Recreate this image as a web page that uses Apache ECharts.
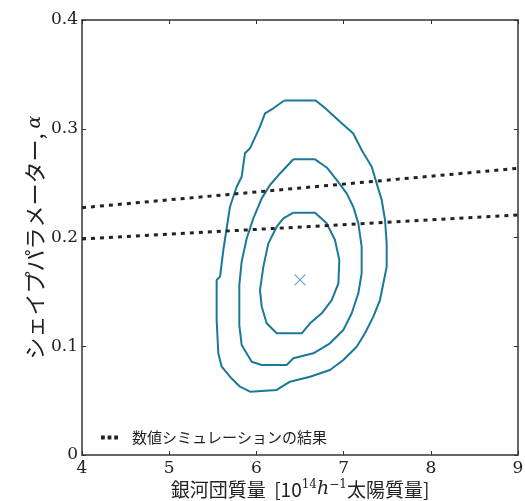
<!DOCTYPE html>
<html>
<head>
<meta charset="utf-8">
<script src="https://cdn.jsdelivr.net/npm/echarts@6/dist/echarts.min.js"></script>
<style>
html,body{margin:0;padding:0;background:#fff;}
#chart{width:525px;height:501px;}
</style>
</head>
<body>
<div id="chart"></div>
<script>
// Axis ticks
const xTicks = [4, 5, 6, 7, 8, 9];
const yTicks = [0, 0.1, 0.2, 0.3, 0.4];

// Outer contour (mass, alpha)
const outerContour = [
  [6.32,0.326],[6.68,0.326],[6.787,0.319],[6.959,0.3065],[7.111,0.2957],[7.207,0.2805],
  [7.322,0.2651],[7.379,0.2498],[7.437,0.2345],[7.475,0.2161],[7.494,0.1946],[7.494,0.1732],
  [7.456,0.1579],[7.417,0.1425],[7.341,0.1272],[7.245,0.1119],[7.150,0.0996],[6.997,0.0874],
  [6.844,0.0782],[6.615,0.0720],[6.385,0.0674],[6.233,0.0598],[5.927,0.0582],[5.812,0.0628],
  [5.697,0.0720],[5.602,0.0812],[5.563,0.0935],[5.544,0.1241],[5.544,0.1609],[5.583,0.1640],
  [5.621,0.1885],[5.697,0.2283],[5.774,0.2467],[5.831,0.2559],[5.869,0.2774],[5.927,0.2820],
  [6.041,0.3019],[6.099,0.3142],[6.194,0.3188],[6.32,0.326]
];
// Middle contour
const middleContour = [
  [6.424,0.2719],[6.672,0.2719],[6.806,0.2644],[6.920,0.2529],[7.035,0.2406],[7.111,0.2283],
  [7.169,0.2130],[7.207,0.1916],[7.207,0.1671],[7.169,0.1487],[7.093,0.1303],[6.997,0.1150],
  [6.844,0.1027],[6.653,0.0935],[6.424,0.0889],[6.347,0.0828],[6.061,0.0828],[5.946,0.0858],
  [5.831,0.1012],[5.804,0.1195],[5.804,0.1563],[5.831,0.1778],[5.889,0.1993],[5.965,0.2176],
  [6.061,0.2360],[6.156,0.2483],[6.271,0.2589],[6.424,0.2719]
];
// Inner contour
const innerContour = [
  [6.424,0.2228],[6.672,0.2228],[6.806,0.2130],[6.901,0.1977],[6.951,0.1793],[6.940,0.1579],
  [6.864,0.1425],[6.749,0.1303],[6.615,0.1211],[6.520,0.1119],[6.233,0.1119],[6.118,0.1211],
  [6.061,0.1364],[6.041,0.1517],[6.080,0.1732],[6.137,0.1946],[6.233,0.2099],[6.309,0.2176],
  [6.424,0.2228]
];
// Best-fit point
const bestFit = [[6.50, 0.161]];
// Simulation results (dotted lines)
const simUpper = [[4, 0.2274], [9, 0.2636]];
const simLower = [[4, 0.1986], [9, 0.2207]];
const simName = '数値シミュレーションの結果';

const contourColor = '#1b7898';
const frameColor = '#333';
const serif = 'DejaVu Serif';
const gothic = 'Noto Sans CJK JP';

const chart = echarts.init(document.getElementById('chart'), null, {renderer: 'canvas'});

function axisCommon() {
  return {
    axisLine: {show: true, onZero: false, lineStyle: {color: frameColor, width: 1.5}},
    axisTick: {show: true, inside: true, length: 4, lineStyle: {color: frameColor, width: 1}},
    splitLine: {show: false}
  };
}

const contourSeries = (data) => ({
  type: 'line', data: data, showSymbol: false, symbol: 'none', smooth: false,
  lineStyle: {color: contourColor, width: 2}, silent: true, z: 3
});

chart.setOption({
  animation: false,
  backgroundColor: '#fff',
  grid: {left: 82, right: 7, top: 20, bottom: 46, containLabel: false, outerBoundsMode: 'none'},
  legend: {
    data: [{name: simName, icon: 'path://M0,0h4v4h-4z M7,0h4v4h-4z M14,0h4v4h-4z'}],
    left: 96, top: 425,
    itemWidth: 17, itemHeight: 4, itemGap: 10,
    itemStyle: {color: '#222'},
    textStyle: {fontFamily: gothic, fontSize: 15, color: '#222', padding: [0, 0, 0, 9]},
    selectedMode: false
  },
  xAxis: [
    Object.assign({
      type: 'value', min: 4, max: 9, interval: 1, position: 'bottom',
      axisLabel: {fontFamily: serif, fontSize: 17, color: '#222', margin: 5,
        formatter: v => String(v)},
      name: '{a|銀河団質量  [10}{s|14}{i|h}{s|−1}{a|太陽質量]}',
      nameLocation: 'middle', nameGap: 34, nameMoveOverlap: false,
      nameTextStyle: {
        verticalAlign: 'middle',
        rich: {
          a: {fontFamily: gothic, fontSize: 19, color: '#222', lineHeight: 20, verticalAlign: 'bottom'},
          s: {fontFamily: serif, fontSize: 12, color: '#222', lineHeight: 20, verticalAlign: 'top'},
          i: {fontFamily: serif, fontStyle: 'italic', fontSize: 19, color: '#222', lineHeight: 20, verticalAlign: 'bottom'}
        }
      }
    }, axisCommon()),
    Object.assign({
      type: 'value', min: 4, max: 9, interval: 1, position: 'top',
      axisLabel: {show: false}
    }, axisCommon())
  ],
  yAxis: [
    Object.assign({
      type: 'value', min: 0, max: 0.4, interval: 0.1, position: 'left',
      axisLabel: {fontFamily: serif, fontSize: 17, color: '#222', margin: 4,
        formatter: v => v === 0 ? '0' : v.toFixed(1)},
      name: '{a|シェイプパラメーター, }{i|α}',
      nameLocation: 'middle', nameGap: 36, nameRotate: 90, nameMoveOverlap: false,
      nameTextStyle: {
        rich: {
          a: {fontFamily: gothic, fontSize: 22, color: '#222'},
          i: {fontFamily: serif, fontStyle: 'italic', fontSize: 19, color: '#222'}
        }
      }
    }, axisCommon()),
    Object.assign({
      type: 'value', min: 0, max: 0.4, interval: 0.1, position: 'right',
      axisLabel: {show: false}
    }, axisCommon())
  ],
  series: [
    contourSeries(outerContour),
    contourSeries(middleContour),
    contourSeries(innerContour),
    {
      type: 'scatter', data: bestFit, symbol: 'path://M0,0L10,10M10,0L0,10', symbolSize: 11,
      itemStyle: {color: 'rgba(0,0,0,0)', borderColor: '#3d8fc2', borderWidth: 1.2},
      silent: true, z: 4
    },
    {
      name: simName, type: 'line', data: simUpper, showSymbol: false, symbol: 'none',
      lineStyle: {color: '#222', width: 3, type: [4, 5]},
      itemStyle: {color: '#222'}, silent: true, z: 5
    },
    {
      name: simName, type: 'line', data: simLower, showSymbol: false, symbol: 'none',
      lineStyle: {color: '#222', width: 3, type: [4, 5]},
      itemStyle: {color: '#222'}, silent: true, z: 5
    }
  ]
});
</script>
</body>
</html>
